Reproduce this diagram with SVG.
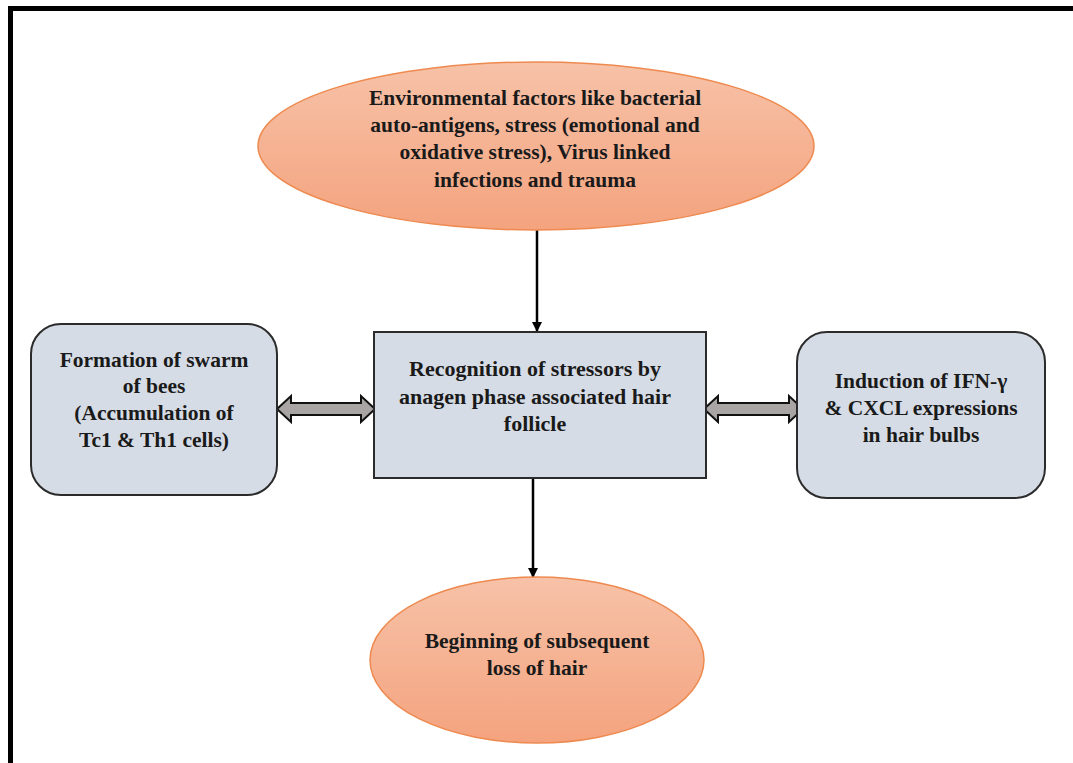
<svg xmlns="http://www.w3.org/2000/svg" width="1073" height="763" viewBox="0 0 1073 763">
<defs>
<linearGradient id="peach" x1="0" y1="0" x2="0" y2="1">
<stop offset="0" stop-color="#f7c2a8"/>
<stop offset="1" stop-color="#f4a37e"/>
</linearGradient>
<marker id="ah" viewBox="0 0 10 10" refX="9" refY="5" markerWidth="10" markerHeight="10" markerUnits="userSpaceOnUse" orient="auto">
<path d="M0,0 L10,5 L0,10 z" fill="#000"/>
</marker>
</defs>
<style>
.ell{fill:url(#peach);stroke:#ee8a50;stroke-width:1.5}
.box{fill:#d6dce5;stroke:#2b2b2b;stroke-width:2}
.t{font-family:"Liberation Serif",serif;font-weight:bold;font-size:21.5px;fill:#1a1a1a;text-anchor:middle}
.c{font-size:22px}
.ln{stroke:#000;stroke-width:2.5;fill:none;marker-end:url(#ah)}
.dbl{fill:#a9a5a5;stroke:#111;stroke-width:2;stroke-linejoin:miter}
</style>
<rect x="0" y="0" width="1073" height="763" fill="#fff"/>
<path d="M10.5,763 L10.5,8.5 L1073,8.5" fill="none" stroke="#000" stroke-width="5"/>
<g id="connectors">
<line class="ln" x1="537" y1="230" x2="537" y2="331"/>
<line class="ln" x1="533" y1="478" x2="533" y2="577"/>
<path class="dbl" d="M277,409 L291,396 L291,403 L361,403 L361,396 L375,409 L361,422 L361,415 L291,415 L291,422 Z"/>
<path class="dbl" d="M704,409 L718,396 L718,403 L789,403 L789,396 L803,409 L789,422 L789,415 L718,415 L718,422 Z"/>
</g>
<g id="env">
<ellipse class="ell" cx="536" cy="146" rx="278" ry="84"/>
<text class="t" x="535" y="105">Environmental factors like bacterial</text>
<text class="t" x="535" y="132">auto-antigens, stress (emotional and</text>
<text class="t" x="535" y="159">oxidative stress), Virus linked</text>
<text class="t" x="535" y="187">infections and trauma</text>
</g>
<g id="recognition">
<rect class="box" x="374" y="332" width="332" height="146"/>
<text class="t c" x="535" y="376">Recognition of stressors by</text>
<text class="t c" x="535" y="404">anagen phase associated hair</text>
<text class="t c" x="535" y="431">follicle</text>
</g>
<g id="swarm">
<rect class="box" x="31" y="324" width="246" height="171" rx="30" ry="30"/>
<text class="t" x="154" y="367">Formation of swarm</text>
<text class="t" x="154" y="393">of bees</text>
<text class="t" x="154" y="420">(Accumulation of</text>
<text class="t" x="154" y="447">Tc1 &amp; Th1 cells)</text>
</g>
<g id="induction">
<rect class="box" x="797" y="332" width="248" height="166" rx="30" ry="30"/>
<text class="t" x="921" y="388">Induction of IFN-γ</text>
<text class="t" x="921" y="415">&amp; CXCL expressions</text>
<text class="t" x="921" y="442">in hair bulbs</text>
</g>
<g id="loss">
<ellipse class="ell" cx="537" cy="660" rx="167" ry="83"/>
<text class="t" x="537" y="648">Beginning of subsequent</text>
<text class="t" x="537" y="675">loss of hair</text>
</g>
</svg>
